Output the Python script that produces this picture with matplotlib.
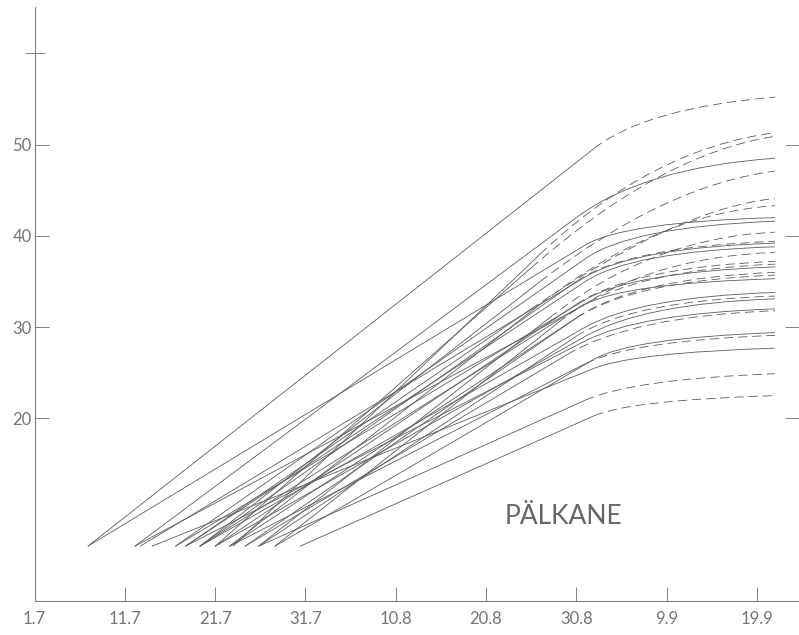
import matplotlib
matplotlib.use('Agg')
import matplotlib.pyplot as plt
from matplotlib.path import Path
from matplotlib.patches import PathPatch

# x axis: days since 1.7
tick_days = [0, 10, 20, 30, 40, 50, 60, 70, 80]
tick_labels = ['1.7', '11.7', '21.7', '31.7', '10.8', '20.8', '30.8', '9.9', '19.9']
y_ticks = [20, 30, 40, 50]

start_val = 6.0
end_day = 82.0

# one entry per curve: start day, end of straight part, bend control point, final value
start_day = [5.9, 22.0, 20.0, 11.1, 18.3, 16.7, 21.6, 5.9, 15.6, 24.8,
             18.3, 11.7, 16.7, 26.6, 20.0, 18.3, 15.6, 23.3, 21.6, 11.1,
             18.3, 24.8, 20.0, 16.7, 23.3, 26.6, 21.6, 13.0, 24.8, 29.4]
knee_day = [62, 56, 55, 60, 56, 55, 56, 61, 61, 57,
            60, 61, 61, 58, 60, 60, 61, 60, 60, 61,
            61, 60, 61, 61, 59, 62, 61, 62, 61, 62]
knee_val = [49.6, 38.0, 36.5, 42.0, 35.0, 32.0, 32.5, 39.0, 37.5, 31.0,
            35.0, 35.5, 35.0, 30.5, 32.5, 32.0, 33.0, 31.0, 31.0, 32.5,
            30.0, 29.0, 29.0, 28.5, 27.0, 26.5, 26.0, 25.5, 22.0, 20.3]
ctrl_day = [67.7, 68.2, 69.4, 67.5, 69.7, 71.2, 69.0, 65.2, 66.0, 68.3,
            65.5, 66.4, 66.0, 67.1, 66.2, 66.9, 66.0, 66.5, 66.3, 65.3,
            66.9, 66.0, 67.4, 66.9, 66.1, 66.0, 65.9, 66.3, 66.2, 65.9]
ctrl_val = [54.0, 49.5, 49.0, 47.5, 45.5, 43.0, 42.5, 41.5, 41.0, 39.8,
            38.8, 38.7, 38.3, 37.6, 36.6, 36.3, 36.0, 35.4, 35.1, 34.8,
            33.3, 32.9, 32.6, 31.5, 31.2, 28.8, 28.5, 27.2, 24.3, 22.0]
end_val = [55.2, 51.3, 50.9, 48.5, 47.1, 44.1, 43.3, 42.0, 41.6, 40.4,
           39.4, 39.2, 38.8, 38.2, 37.2, 36.9, 36.6, 36.0, 35.7, 35.3,
           33.8, 33.4, 33.1, 32.0, 31.8, 29.4, 29.1, 27.7, 24.9, 22.5]
dashed = [1, 1, 1, 0, 1, 1, 1, 0, 0, 1,
          1, 0, 0, 1, 1, 1, 0, 1, 1, 0,
          0, 1, 0, 0, 1, 0, 1, 0, 1, 1]

ink = '#5c5c5c'
axis_grey = '#808080'
fig = plt.figure(figsize=(7.99, 6.35), dpi=100)
ax = fig.add_axes([0.0432, 0.0535, 0.9568, 0.9354])

for i in range(len(start_day)):
    straight = Path([(start_day[i], start_val), (knee_day[i], knee_val[i])],
                    [Path.MOVETO, Path.LINETO])
    bend = Path([(knee_day[i], knee_val[i]), (ctrl_day[i], ctrl_val[i]), (end_day, end_val[i])],
                [Path.MOVETO, Path.CURVE3, Path.CURVE3])
    ax.add_patch(PathPatch(straight, fill=False, edgecolor=ink, linewidth=0.6))
    ls = (0, (11, 6)) if dashed[i] else '-'
    ax.add_patch(PathPatch(bend, fill=False, edgecolor=ink, linewidth=0.6, linestyle=ls))

ax.set_xlim(0, 84.66)
ax.set_ylim(0, 65.06)

ax.spines['top'].set_visible(False)
ax.spines['right'].set_visible(False)
for s in ['left', 'bottom']:
    ax.spines[s].set_color(axis_grey)
    ax.spines[s].set_linewidth(0.8)

ax.set_xticks(tick_days)
ax.set_xticklabels(tick_labels)
ax.set_yticks(y_ticks)
ax.set_yticks([60], minor=True)
ax.tick_params(axis='x', direction='in', length=10, width=0.7, color=axis_grey, pad=7)
ax.tick_params(axis='y', which='major', direction='in', length=10, width=0.7, color=axis_grey,
               pad=2, right=True)
ax.tick_params(axis='y', which='minor', direction='inout', length=14, width=0.7, color=axis_grey)

for lab in ax.get_xticklabels() + ax.get_yticklabels():
    lab.set_fontfamily(['Lato', 'DejaVu Sans'])
    lab.set_fontweight('normal')
    lab.set_fontsize(12)
    lab.set_color('#747474')

ax.text(58.6, 9.3, 'PÄLKANE', fontsize=19, fontweight='normal', family=['Lato', 'DejaVu Sans'],
        color='#666666', ha='center', va='center')

fig.savefig('out.png', dpi=100)
